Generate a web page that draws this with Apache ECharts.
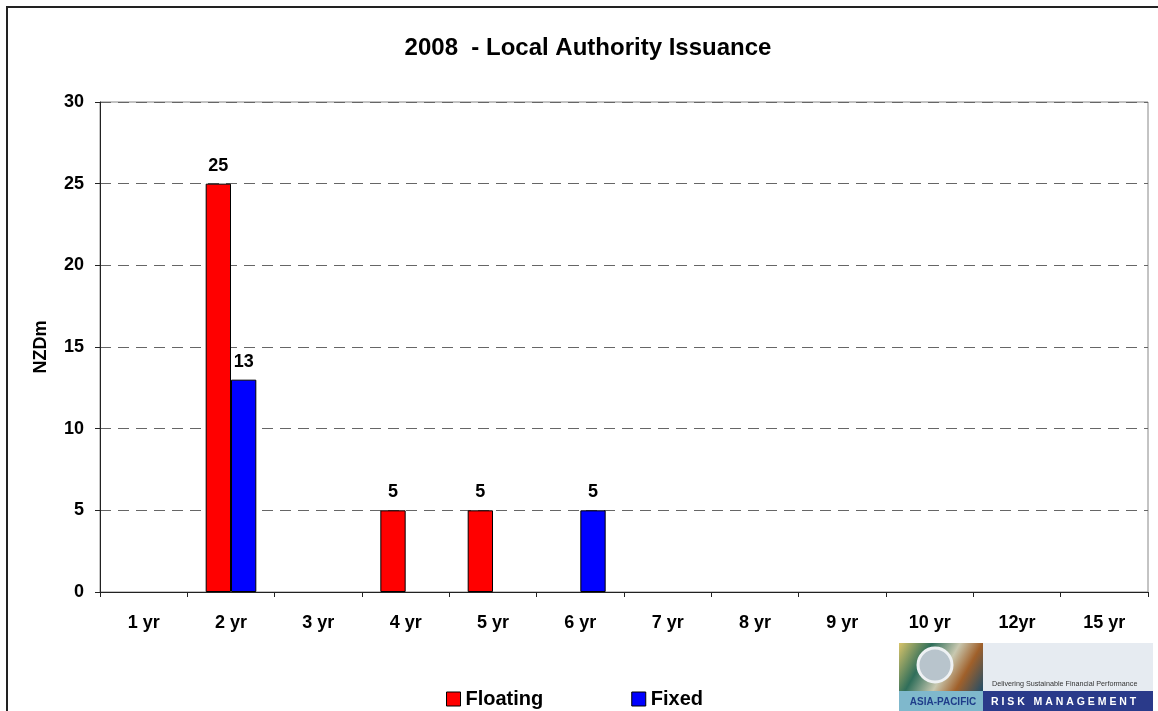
<!DOCTYPE html>
<html><head><meta charset="utf-8">
<script src="https://cdn.jsdelivr.net/npm/echarts@6/dist/echarts.min.js"></script>
<style>html,body{margin:0;padding:0;background:#fff}#c{width:1158px;height:711px}</style>
</head><body><div id="c"></div>
<script>
const categories = ['1 yr','2 yr','3 yr','4 yr','5 yr','6 yr','7 yr','8 yr','9 yr','10 yr','12yr','15 yr'];
const floating = [null,25,null,5,5,null,null,null,null,null,null,null];
const fixed = [null,13,null,null,null,5,null,null,null,null,null,null];
const yTicks = {min:0,max:30,interval:5};

const chart = echarts.init(document.getElementById('c'));
const F = 'Liberation Sans, Arial, sans-serif';
const lbl = {show:true,position:'top',distance:9,fontFamily:F,fontSize:18,fontWeight:'bold',color:'#000'};
chart.setOption({
  animation:false,
  title:{text:'2008  - Local Authority Issuance',left:583,top:31,textAlign:'center',
    textStyle:{fontFamily:F,fontSize:24,fontWeight:'bold',color:'#000'}},
  grid:{left:100,right:10,top:102,bottom:119,show:true,borderColor:'#888',borderWidth:1,backgroundColor:'transparent'},
  legend:{data:['Floating','Fixed'],left:441,top:684,itemWidth:14,itemHeight:14,itemGap:88,icon:'rect',itemTextGap:6,
    textStyle:{fontFamily:F,fontSize:20,fontWeight:'bold',color:'#000'},
    itemStyle:{borderColor:'#000',borderWidth:1}},
  xAxis:{type:'category',data:categories,
    axisLine:{lineStyle:{color:'#222',width:1}},
    axisTick:{show:true,alignWithLabel:false,length:5,inside:false,lineStyle:{color:'#222'}},
    axisLabel:{fontFamily:F,fontSize:18,fontWeight:'bold',color:'#000',margin:22}},
  yAxis:{type:'value',min:yTicks.min,max:yTicks.max,interval:yTicks.interval,
    name:'NZDm',nameLocation:'middle',nameGap:50,nameRotate:90,
    nameTextStyle:{fontFamily:F,fontSize:18,fontWeight:'bold',color:'#000'},
    axisLine:{show:true,lineStyle:{color:'#222',width:1}},
    axisTick:{show:true,length:5,lineStyle:{color:'#222'}},
    axisLabel:{fontFamily:F,fontSize:18,fontWeight:'bold',color:'#000',margin:16},
    splitLine:{lineStyle:{color:'#666',type:[11,7],width:1}}},
  series:[
    {name:'Floating',type:'bar',data:floating,barWidth:'29%',barGap:'0%',
      itemStyle:{color:'#ff0000',borderColor:'#000',borderWidth:1},label:lbl},
    {name:'Fixed',type:'bar',data:fixed,barWidth:'29%',barGap:'0%',
      itemStyle:{color:'#0000ff',borderColor:'#000',borderWidth:1},label:lbl}
  ],
  graphic:[
    {type:'rect',shape:{x:7,y:7,width:1170,height:720},style:{fill:'none',stroke:'#222',lineWidth:2},silent:true,z:-1},
    {type:'group',left:899,top:643,children:[
      {type:'rect',shape:{x:0,y:0,width:84,height:48},style:{fill:new echarts.graphic.LinearGradient(0,0,1,1,[
        {offset:0,color:'#d9c46a'},{offset:0.3,color:'#2f6e5a'},{offset:0.55,color:'#c8c8b0'},{offset:0.75,color:'#a0602a'},{offset:1,color:'#1f4d6a'}])}},
      {type:'circle',shape:{cx:36,cy:22,r:17},style:{fill:'#b8c4cc',stroke:'#eef1f3',lineWidth:3}},
      {type:'rect',shape:{x:84,y:0,width:170,height:48},style:{fill:'#e6ebf1'}},
      {type:'text',style:{x:93,y:41,text:'Delivering Sustainable Financial Performance',fontFamily:F,fontSize:7.2,fill:'#333',textVerticalAlign:'middle'}},
      {type:'rect',shape:{x:0,y:48,width:84,height:22},style:{fill:'#7fb8cc'}},
      {type:'text',style:{x:44,y:59,text:'ASIA-PACIFIC',fontFamily:F,fontSize:10,fontWeight:'bold',fill:'#1f3d8a',textAlign:'center',textVerticalAlign:'middle'}},
      {type:'rect',shape:{x:84,y:48,width:170,height:22},style:{fill:'#2a3a8a'}},
      {type:'text',style:{x:92,y:59,text:'R I S K   M A N A G E M E N T',fontFamily:F,fontSize:10.5,fontWeight:'bold',fill:'#ffffff',textVerticalAlign:'middle'}}
    ]}
  ]
});
</script></body></html>
